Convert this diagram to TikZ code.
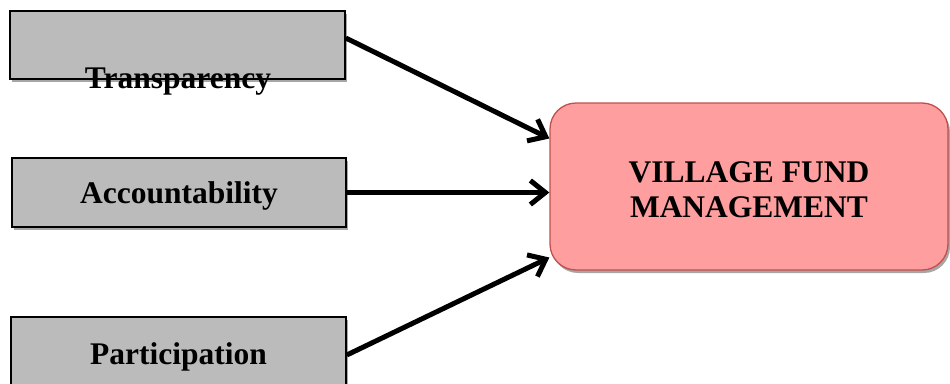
\documentclass[tikz,border=0pt]{standalone}
\usepackage{fontspec}
\setmainfont{Liberation Serif}
\usetikzlibrary{arrows.meta,shadows}
\definecolor{boxgray}{HTML}{BBBBBB}
\definecolor{pinkfill}{HTML}{FF9E9E}
\definecolor{pinkedge}{HTML}{C0504D}
\tikzset{
  graybox/.style={draw=black, line width=1.6pt, fill=boxgray, rectangle, inner sep=0pt,
    drop shadow={shadow xshift=2pt, shadow yshift=-3pt, opacity=0.35, fill=black}},
  mainbox/.style={draw=pinkedge, line width=1.3pt, fill=pinkfill, rounded corners=26pt, inner sep=0pt,
    drop shadow={shadow xshift=2pt, shadow yshift=-3pt, opacity=0.35, fill=black}},
  lbl/.style={font=\fontsize{31.5}{35}\selectfont\bfseries, inner sep=0pt, align=center},
  conn/.style={line width=5pt, -{Straight Barb[length=15pt,width=24pt,line width=5pt]}}
}
\begin{document}
\begin{tikzpicture}[x=1pt,y=-1pt]
\useasboundingbox (0,0) rectangle (950,383);
\node[graybox, minimum width=335pt, minimum height=68pt] (b1) at (177.5,45) {};
\node[lbl] (t1) at (178,82) {Transparency};
\node[graybox, minimum width=334pt, minimum height=69pt] (b2) at (179,192.5) {};
\node[lbl] (t2) at (179,196) {Accountability};
\node[graybox, minimum width=335pt, minimum height=80pt] (b3) at (178.5,357) {};
\node[lbl] (t3) at (178.5,357) {Participation};
\node[mainbox, minimum width=398pt, minimum height=167pt] (m) at (749,186.5) {};
\node[lbl] (mt) at (749,189.5) {VILLAGE FUND\\MANAGEMENT};
\draw[conn] ([yshift=7pt]b1.east) -- ([yshift=48pt]m.west);
\draw[conn] (b2.east) -- ([yshift=-6pt]m.west);
\draw[conn] ([yshift=2pt]b3.east) -- ([yshift=-71pt]m.west);
\end{tikzpicture}
\end{document}
